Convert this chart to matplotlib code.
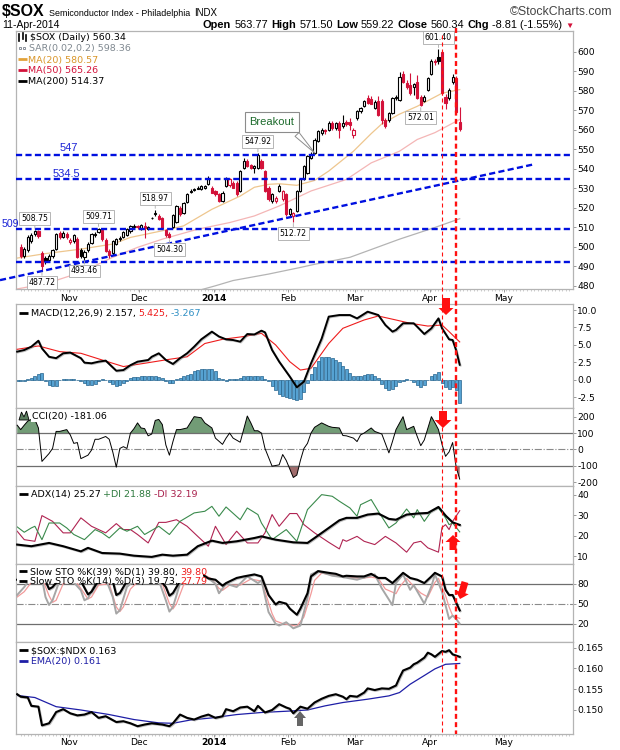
import matplotlib
matplotlib.use("Agg")
import matplotlib.pyplot as plt
import matplotlib.patheffects as pe
from matplotlib import font_manager
from matplotlib.patches import Polygon, Rectangle
from matplotlib.lines import Line2D
from matplotlib.transforms import blended_transform_factory
import numpy as np
import pandas as pd

# ---------------- data ----------------
holidays = ["2013-11-28", "2013-12-25", "2014-01-01", "2014-01-20",
            "2014-02-17", "2014-04-18", "2014-05-26"]
sessions = pd.bdate_range("2013-10-14", "2014-05-30")
sessions = sessions[~sessions.isin(pd.to_datetime(holidays))]

# daily candles, 14-Oct-2013 .. 11-Apr-2014
opens = [500.0, 495.5, 498.5, 503.0, 506.5, 508.0, 497.0, 494.5, 493.0, 495.5,
         499.0, 507.0, 505.0, 506.5, 502.5, 503.0, 504.0, 498.5, 495.0, 498.5,
         502.0, 506.0, 507.5, 508.5, 503.5, 498.0, 497.0, 501.5, 504.0, 505.0,
         506.0, 508.0, 510.3, 510.5, 509.0, 510.5, 509.0, 514.5, 516.8, 516.0,
         515.0, 508.5, 506.5, 510.0, 512.5, 520.0, 517.5, 523.0, 528.0, 529.0,
         529.8, 529.5, 530.0, 532.0, 530.3, 528.6, 526.9, 523.5, 531.1, 531.5,
         532.8, 532.8, 528.6, 540.5, 543.9, 541.8, 540.3, 540.5, 543.9, 538.8,
         530.3, 523.5, 523.5, 528.6, 524.3, 526.9, 516.7, 515.8, 518.4, 528.6,
         534.5, 537.9, 545.6, 548.1, 554.1, 558.3, 559.8, 560.0, 563.4, 560.9,
         563.4, 561.8, 564.0, 563.8, 557.5, 566.0, 569.4, 572.0, 576.5, 576.0,
         571.1, 574.5, 574.5, 565.1, 565.1, 568.5, 576.2, 575.3, 588.4, 583.8,
         583.0, 582.1, 584.7, 577.0, 574.5, 580.4, 588.4, 595.2, 597.4, 599.7,
         577.0, 576.2, 584.7, 586.4, 563.77]
highs = [501.5, 500.0, 506.0, 507.0, 508.75, 508.5, 498.0, 495.5, 496.5, 499.0,
         507.0, 508.0, 508.0, 507.5, 504.5, 506.5, 505.0, 499.5, 498.5, 502.5,
         507.0, 507.5, 509.71, 509.0, 504.5, 499.0, 503.5, 504.5, 505.5, 508.0,
         509.5, 511.0, 511.5, 511.0, 511.5, 512.5, 510.5, 515.5, 518.97, 517.0,
         515.5, 509.0, 507.5, 517.0, 521.5, 521.0, 523.0, 527.5, 529.5, 530.0,
         531.0, 531.5, 531.5, 536.5, 531.0, 529.0, 527.5, 528.5, 536.0, 535.5,
         533.5, 533.5, 539.5, 545.5, 545.0, 542.5, 541.8, 547.92, 545.0, 539.5,
         531.0, 527.5, 526.0, 532.0, 529.0, 527.5, 519.8, 518.0, 529.0, 535.0,
         542.0, 547.0, 548.5, 555.5, 559.8, 561.0, 560.5, 564.5, 564.5, 564.0,
         564.5, 567.7, 565.0, 566.0, 561.0, 570.0, 571.8, 575.0, 578.0, 577.5,
         575.0, 577.5, 576.0, 566.0, 569.0, 577.0, 577.8, 589.5, 590.0, 585.5,
         589.0, 584.0, 588.0, 578.0, 578.0, 587.0, 596.5, 596.0, 601.40, 600.5,
         578.5, 581.5, 588.5, 587.5, 571.50]
lows = [494.5, 494.5, 497.5, 502.0, 505.5, 504.5, 487.72, 491.0, 492.0, 494.5,
        498.5, 504.0, 504.5, 504.0, 501.5, 502.0, 494.0, 494.5, 493.46, 497.5,
        501.5, 505.0, 507.0, 503.0, 497.5, 494.5, 496.0, 501.0, 503.0, 504.5,
        505.5, 507.0, 509.5, 509.0, 508.5, 504.5, 508.5, 514.0, 516.0, 513.5,
        509.0, 505.0, 504.30, 509.5, 512.0, 516.0, 517.0, 522.5, 527.5, 528.5,
        529.5, 529.0, 529.5, 531.5, 527.5, 526.0, 523.0, 523.0, 530.5, 530.5,
        530.0, 526.0, 528.0, 540.0, 541.0, 540.0, 538.0, 540.0, 540.0, 528.0,
        523.5, 522.5, 522.5, 528.0, 523.5, 516.0, 515.5, 512.72, 518.0, 528.0,
        534.0, 537.5, 545.0, 547.5, 553.5, 557.5, 558.0, 559.5, 560.0, 560.0,
        556.0, 561.0, 562.0, 560.0, 556.0, 565.0, 568.5, 571.5, 573.0, 573.0,
        570.5, 567.0, 563.0, 561.0, 564.0, 568.0, 575.0, 574.5, 584.0, 581.0,
        578.0, 578.0, 575.5, 572.01, 574.0, 580.0, 588.0, 593.0, 593.5, 578.0,
        570.5, 575.0, 583.5, 568.5, 559.22]
closes = [495.5, 499.0, 505.0, 506.0, 508.0, 505.5, 490.0, 492.5, 495.5, 498.5,
          506.5, 505.0, 507.0, 505.0, 503.5, 506.0, 494.8, 495.5, 497.5, 501.5,
          506.5, 506.8, 509.0, 504.0, 498.0, 496.0, 503.0, 504.0, 504.5, 507.5,
          509.0, 510.5, 510.8, 510.0, 511.0, 509.5, 510.0, 515.0, 517.5, 514.0,
          509.5, 505.8, 504.8, 516.5, 521.0, 516.8, 522.5, 527.0, 528.8, 529.5,
          530.3, 531.0, 531.2, 534.5, 527.8, 527.0, 523.5, 527.8, 535.4, 534.5,
          530.3, 527.0, 538.8, 543.9, 541.3, 540.6, 541.3, 547.0, 540.5, 528.8,
          524.3, 526.9, 525.2, 531.1, 528.6, 516.7, 519.2, 517.5, 528.6, 534.5,
          541.3, 546.4, 547.6, 554.9, 559.2, 560.0, 559.2, 563.4, 560.9, 563.4,
          560.0, 563.4, 562.8, 562.5, 560.0, 569.4, 571.0, 574.5, 573.6, 573.2,
          574.1, 567.7, 565.1, 561.7, 568.5, 576.2, 577.0, 587.2, 584.7, 582.1,
          578.7, 583.3, 576.2, 572.8, 577.0, 586.4, 595.2, 594.5, 595.2, 578.7,
          573.6, 580.4, 587.2, 569.15, 560.34]

ma20_days = [-1, 7, 17, 26, 31, 40, 46, 54, 62, 66, 70, 73, 78, 83, 87, 94, 99, 102, 107, 112, 119, 124]
ma20_vals = [494.2, 496.5, 498.8, 501.4, 504.8, 508.2, 510.7, 519.2, 526.0, 530.5, 532.0,
             532.3, 531.5, 534.0, 538.8, 549.0, 558.0, 563.0, 568.0, 572.0, 578.7, 580.57]
ma50_days = [-1, 7, 17, 26, 33, 40, 50, 59, 66, 73, 82, 92, 99, 107, 112, 117, 124]
ma50_vals = [478.4, 481.0, 486.9, 494.6, 499.7, 503.9, 509.0, 512.4, 515.8, 520.9, 528.6,
             534.5, 543.0, 549.0, 555.0, 558.5, 565.26]
ma200_days = [50, 55, 60, 70, 79, 83, 93, 107, 117, 124]
ma200_vals = [477.5, 480.0, 482.7, 486.0, 489.4, 491.0, 494.6, 503.9, 509.9, 514.37]

levels = [547, 534.5, 509, 492]
trend_days = [-5.85, 145.3]
trend_vals = [482.9, 542.4]

# labelled highs and lows
label_highs = [4, 22, 38, 67, 118]
label_lows = [6, 18, 42, 77, 113]

macd_days = [-1, 1, 3, 5, 6, 8, 10, 12, 14, 17, 18, 20, 22, 24, 27, 29, 31, 33, 36, 37,
             39, 41, 43, 45, 47, 49, 51, 54, 56, 58, 60, 62, 64, 66, 68, 69, 71, 73, 76, 78,
             80, 82, 85, 87, 90, 93, 95, 98, 101, 103, 105, 106, 108, 111, 112, 114, 116, 118, 119, 121,
             122, 123, 124]
macd_vals = [4.04, 4.27, 4.75, 5.6, 4.5, 3.3, 3.1, 3.8, 3.9, 3.1, 2.46, 2.37, 2.6, 2.75, 1.3, 1.4, 2.1, 2.6, 2.84, 3.3,
             3.8, 2.84, 2.27, 3.1, 3.8, 4.75, 5.8, 6.9, 6.2, 5.8, 5.7, 5.47, 6.56, 6.5, 7.04, 6.8, 4.27, 2.6, 0.46, -1.07,
             -0.26, 2.37, 5.9, 9.05, 9.28, 9.28, 8.8, 9.76, 9.28, 7.85, 6.9, 7.14, 8.1, 8.1, 7.6, 6.56, 7.38, 8.8, 7.38, 5.8,
             5.7, 4.2, 2.157]
signal_days = [-1, 5, 11, 17, 23, 29, 35, 42, 47, 52, 57, 63, 68, 72, 76, 79, 82, 87, 91, 97, 101, 106, 110, 115, 119, 121, 124]
signal_vals = [4.37, 4.85, 4.04, 3.8, 2.84, 1.9, 2.37, 2.94, 3.3, 5.2, 5.8, 6.2, 6.66, 5.0, 2.6, 1.4, 1.65, 5.2, 7.38,
               8.57, 9.14, 8.57, 8.1, 7.7, 7.85, 6.9, 5.425]
hist_vals = [-0.2,
             -0.2, -0.15, 0.1, 0.3, 0.6, 0.85, 0.95, -0.2, -0.7, -0.95,
             -0.9, 0.0, 0.1, 0.15, 0.1, 0.05, 0.0, -0.1, -0.5, -0.8,
             -0.8, -0.6, -0.1, 0.1, 0.0, -0.3, -0.6, -0.9, -0.8, -0.5,
             -0.2, 0.2, 0.35, 0.45, 0.5, 0.55, 0.6, 0.5, 0.55, 0.45,
             0.3, -0.2, -0.45, -0.5, 0.1, 0.3, 0.5, 0.7, 0.9, 1.2,
             1.45, 1.55, 1.6, 1.6, 1.55, 1.2, 0.2, 0.05, -0.1, 0.1,
             0.15, 0.05, 0.3, 0.55, 0.6, 0.6, 0.5, 0.5, 0.55, 0.1,
             -0.1, -0.9, -1.5, -2.0, -2.3, -2.4, -2.6, -2.8, -2.9, -2.7,
             -1.7, -0.5, 0.8, 1.8, 2.7, 3.2, 3.3, 3.3, 3.1, 2.8,
             2.5, 2.0, 1.6, 1.0, 0.6, 0.5, 0.6, 0.7, 0.9, 0.8,
             0.6, 0.3, -0.6, -1.2, -1.4, -1.3, -0.9, -0.3, -0.1, 0.05,
             0.0, -0.3, -0.7, -1.0, -0.8, 0.0, 0.5, 0.9, 1.1, -0.5,
             -1.1, -1.3, -1.1, -1.5, -3.267]
hist_days = list(range(-1, 125))

cci_days = [-1, 0, 1, 2, 3, 4, 5, 6, 8, 9, 10, 11, 13, 14, 15, 16, 17, 19, 20, 21,
            22, 24, 25, 26, 27, 28, 29, 30, 31, 32, 33, 34, 35, 36, 37, 38, 39, 40, 41, 42,
            43, 44, 45, 47, 49, 51, 52, 54, 55, 57, 58, 59, 60, 62, 64, 65, 66, 67, 68, 69,
            71, 72, 73, 74, 75, 77, 78, 79, 80, 81, 82, 83, 85, 87, 88, 90, 91, 92, 94, 95,
            96, 97, 99, 100, 102, 103, 104, 105, 106, 108, 109, 111, 112, 113, 114, 116, 117, 118, 119, 120,
            121, 122, 123, 124]
cci_vals = [148, 121, 148, 173, 183, 183, 131, -73, -25, 6, 110, 110, 121, 89, 37, 42, -56, -35, -4, 62,
            62, 79, 62, -15, -108, 6, 17, 6, 100, 127, 162, 131, 127, 83, 94, 177, 183, 152, 27, -35,
            48, 121, 121, 131, 200, 193, 162, 131, 69, 31, 69, 100, 69, 44, 204, 162, 114, 114, 100, 6,
            -102, -98, -94, -31, -67, -171, -156, -67, 6, 37, 100, 135, 162, 141, 135, 131, 85, 83, 69, 48,
            89, 100, 131, 110, 94, 37, -21, 48, 121, 200, 121, 141, 79, 23, 58, 200, 162, 121, 31, -42,
            -15, 42, -108, -181.06]

adx_days = [-1, 3, 8, 12, 17, 19, 23, 28, 32, 37, 40, 43, 47, 50, 54, 57, 61, 66, 68, 72,
            77, 81, 83, 87, 90, 92, 95, 98, 101, 104, 106, 109, 112, 115, 118, 120, 122, 124]
adx_vals = [15.7, 14.9, 16.5, 14.9, 12.4, 14.1, 11.6, 11.3, 10.3, 9.7, 10.8, 10.3, 10.8, 14.9, 17.6, 16.5,
            17.3, 18.9, 19.7, 18.1, 16.8, 16.5, 18.9, 23.8, 27.5, 28.7, 28.7, 30.3, 30.8, 28.2, 27.8, 30.3,
            30.8, 31.1, 34.0, 29.8, 26.5, 25.27]
pdi_days = [-1, 1, 3, 4, 6, 8, 11, 13, 15, 18, 21, 23, 25, 28, 30, 33, 35, 39, 42, 45,
            49, 52, 54, 56, 58, 62, 64, 67, 68, 71, 75, 78, 81, 85, 88, 90, 93, 95, 96, 99,
            101, 104, 106, 109, 111, 112, 114, 116, 118, 120, 121, 122, 124]
pdi_vals = [24.3, 21.7, 23.8, 24.6, 18.1, 26.2, 26.2, 23.8, 20.6, 18.1, 23.0, 21.4, 18.9, 23.8, 22.2, 24.6,
            20.6, 24.6, 20.6, 27.0, 31.1, 31.9, 34.3, 29.5, 34.0, 27.8, 33.5, 30.3, 26.2, 18.1, 23.0, 17.3,
            32.7, 40.0, 39.2, 36.8, 33.5, 29.5, 35.1, 37.6, 31.9, 23.8, 26.2, 33.0, 28.7, 32.7, 27.0, 31.9,
            33.5, 28.7, 25.4, 26.2, 21.88]
mdi_days = [-1, 1, 4, 6, 9, 12, 14, 17, 20, 24, 27, 29, 31, 33, 36, 39, 41, 44, 47, 50,
            53, 55, 58, 61, 64, 67, 69, 71, 73, 76, 78, 80, 83, 87, 90, 91, 92, 95, 97, 100,
            103, 106, 109, 111, 113, 115, 118, 119, 120, 121, 122, 124]
mdi_vals = [22.2, 18.1, 17.3, 29.8, 27.0, 21.4, 21.4, 28.7, 24.6, 21.4, 25.9, 23.0, 23.0, 20.6, 16.5, 26.5,
            26.5, 27.8, 24.6, 19.7, 14.9, 24.6, 15.7, 22.2, 16.5, 16.5, 21.4, 30.3, 24.6, 30.8, 30.8, 25.4,
            21.4, 16.8, 13.6, 18.1, 17.3, 19.7, 17.3, 15.7, 19.7, 16.5, 12.0, 16.5, 17.3, 14.1, 12.0, 24.0,
            25.4, 23.0, 27.0, 32.19]

k39_days = [-1, 2, 5, 7, 8, 9, 11, 14, 17, 19, 20, 22, 24, 26, 27, 28, 30, 33, 36, 39,
            41, 42, 43, 45, 48, 51, 53, 55, 57, 58, 61, 63, 66, 68, 70, 72, 73, 75, 76, 78,
            79, 81, 82, 84, 87, 89, 91, 92, 95, 97, 99, 101, 103, 105, 106, 108, 110, 112, 114, 116,
            117, 119, 120, 121, 122, 124]
k39_vals = [86, 88, 90, 84, 72, 75, 88, 90, 84, 64, 68, 85, 88, 84, 63, 66, 84, 90, 92, 88,
            75, 62, 66, 84, 92, 95, 88, 86, 77, 81, 88.7, 91, 94, 91, 63, 48.7, 52.8, 50, 42.6, 33.3,
            42.6, 65.6, 91, 99, 96.4, 94.9, 91, 92, 91, 91, 94.9, 88.7, 88.7, 81, 86, 96.4, 88.7, 86, 81, 91,
            96.4, 91, 70.8, 63, 63, 39.80]
k14_days = [-1, 1, 3, 6, 7, 8, 9, 11, 14, 17, 18, 19, 21, 24, 26, 27, 28, 30, 33, 36,
            39, 41, 42, 43, 45, 48, 51, 53, 55, 56, 58, 61, 64, 67, 68, 70, 72, 73, 75, 77,
            79, 81, 82, 84, 88, 91, 95, 98, 100, 102, 105, 106, 108, 110, 111, 114, 116, 117, 119, 121,
            122, 123, 124]
k14_vals = [63, 75, 90, 88, 60, 48, 55, 85, 88, 70, 55, 58, 80, 88, 60, 35, 40, 75, 90, 92,
            85, 55, 38, 45, 80, 92, 95, 88, 80, 65.6, 80, 75, 91, 81, 85, 37.4, 19.5, 17, 22, 12.8,
            17, 58, 94, 99, 92, 90, 86, 91, 94, 73, 47.7, 81, 94, 70.8, 78, 50, 76, 94, 68, 27,
            32, 27, 19.73]
d3_days = [-1, 1, 3, 6, 8, 9, 10, 12, 15, 18, 19, 20, 22, 25, 27, 28, 29, 31, 34, 37,
           40, 42, 43, 44, 46, 49, 52, 54, 56, 57, 59, 62, 65, 68, 69, 71, 72, 74, 76, 78,
           80, 82, 83, 85, 89, 92, 96, 99, 101, 103, 106, 107, 109, 111, 113, 115, 117, 118, 120, 121,
           122, 124]
d3_vals = [60, 68, 82, 89, 62, 52, 55, 80, 88, 65, 57, 60, 78, 80, 45, 38, 45, 72, 88, 90,
           80, 50, 42, 50, 78, 90, 93, 87, 73, 70, 78, 78, 87, 84, 68, 35, 24, 20, 18, 16,
           30, 65, 85, 96, 92, 90, 88, 90, 88, 72, 65, 75, 88, 76, 66, 60, 82, 88, 62, 45,
           32, 27.79]

ratio_days = [-1, 0, 2, 3, 5, 6, 8, 9, 10, 12, 14, 16, 18, 20, 22, 24, 27, 29, 31, 33,
              35, 37, 40, 42, 43, 45, 47, 49, 51, 53, 55, 57, 58, 60, 62, 64, 66, 67, 69, 71,
              73, 75, 76, 77, 79, 81, 83, 85, 87, 89, 91, 92, 93, 95, 97, 98, 100, 102, 104, 106,
              107, 108, 110, 111, 112, 114, 115, 116, 117, 119, 120, 121, 122, 124]
ratio_vals = [0.1538, 0.1532, 0.1530, 0.1510, 0.1508, 0.1463, 0.1468, 0.1481, 0.1495, 0.1502,
              0.1492, 0.1487, 0.1489, 0.1495, 0.1481, 0.1485, 0.1471, 0.1473, 0.1468, 0.1461,
              0.1465, 0.1468, 0.1465, 0.1461, 0.1468, 0.1489, 0.1481, 0.1477, 0.1484, 0.1489,
              0.1481, 0.1485, 0.1502, 0.1497, 0.1506, 0.1508, 0.1497, 0.1510, 0.1494, 0.1500,
              0.1514, 0.1506, 0.1503, 0.1492, 0.1508, 0.1503, 0.1518, 0.1527, 0.1534, 0.1538,
              0.1532, 0.1526, 0.1534, 0.1532, 0.1542, 0.1552, 0.1548, 0.1552, 0.1551, 0.1559,
              0.1578, 0.1595, 0.1602, 0.1610, 0.1614, 0.1626, 0.1638, 0.1634, 0.1628, 0.1642,
              0.1640, 0.1644, 0.1634, 0.1628]
ema_days = [-1, 4, 10, 17, 25, 32, 39, 43, 48, 54, 61, 68, 75, 81, 86, 91, 98, 104, 107, 110, 114, 117, 120, 124]
ema_vals = [0.1535, 0.1530, 0.1508, 0.1500, 0.1489, 0.1477, 0.1469, 0.1468, 0.1476, 0.1481, 0.1489, 0.1494,
            0.1497, 0.1500, 0.1510, 0.1518, 0.1526, 0.1534, 0.1542, 0.1562, 0.1583, 0.1599, 0.1610, 0.1612]

signal_day_a, signal_day_b = 119, 123   # 4-Apr and 10-Apr markers

# ---------------- figure ----------------
RED = "#d3123a"
W, H = 620, 750
XL, XR = 16, 573
XLIM = (-1.33, 156.0)
plt.rcParams["font.family"] = "DejaVu Sans"
fig = plt.figure(figsize=(6.2, 7.5), dpi=100)
renderer = fig.canvas.get_renderer()


def has_font(name):
    try:
        font_manager.findfont(name, fallback_to_default=False)
        return True
    except ValueError:
        return False


NARROW = has_font("Liberation Sans Narrow")


def panel(top, bottom):
    return fig.add_axes([XL / W, 1 - bottom / H, (XR - XL) / W, (bottom - top) / H])


def frame(ax, ylim, ticks, labels):
    ax.set_xlim(*XLIM)
    ax.set_ylim(*ylim)
    ax.yaxis.tick_right()
    ax.set_yticks(ticks)
    ax.set_yticklabels(labels)
    ax.tick_params(axis="y", direction="out", length=2.2, width=0.7, color="#9a9a9a",
                   labelsize=6.6, pad=1)
    ax.set_xticks([])
    for sp in ax.spines.values():
        sp.set_color("#b4b4b4")
        sp.set_linewidth(0.9)


month_pos = [i for i in range(1, len(sessions)) if sessions[i].month != sessions[i - 1].month]
month_lbl = ["2014" if sessions[i].month == 1 else sessions[i].strftime("%b") for i in month_pos]


def date_axis(ax):
    ax.set_xticks([p - 0.5 for p in month_pos])
    ax.set_xticklabels(month_lbl)
    ax.set_xticks(np.arange(0, 156), minor=True)
    ax.tick_params(axis="x", which="major", direction="out", length=2.2, width=0.7,
                   color="#9a9a9a", labelsize=6.6, pad=1)
    ax.tick_params(axis="x", which="minor", direction="out", length=1.2, width=0.5, color="#b8b8b8")
    for t in ax.get_xticklabels():
        if t.get_text() == "2014":
            t.set_fontweight("bold")


def rich(x, base, parts, family="DejaVu Sans", align="left", gap=2.5, bg=False):
    made = []
    for part in parts:
        s, col, wt, size = part[:4]
        fam = part[4] if len(part) > 4 else family
        t = fig.text(0, 0, s, fontsize=size, color=col, fontweight=wt, family=fam,
                     va="baseline", ha="left", zorder=6)
        made.append((t, t.get_window_extent(renderer).width))
    total = sum(w for _, w in made) + gap * (len(made) - 1)
    cx = x - total if align == "right" else x
    if bg:
        hgt = parts[0][3] * 1.39 + 1
        fig.add_artist(Rectangle(((cx - 1) / W, 1 - (base + 2.5) / H), (total + 2) / W, hgt / H,
                                 transform=fig.transFigure, fc="white", ec="none", zorder=5.5))
    for t, w in made:
        t.set_position((cx / W, 1 - base / H))
        cx += w + gap


def mark(x0, x1, y, color, lw=2.0):
    fig.add_artist(Line2D([x0 / W, x1 / W], [1 - y / H, 1 - y / H], color=color, lw=lw,
                          transform=fig.transFigure, zorder=6, solid_capstyle="butt"))


def block_arrow(x0, y0, x1, y1, shaft, head, head_len, color):
    dx, dy = x1 - x0, y1 - y0
    ln = np.hypot(dx, dy)
    ux, uy = dx / ln, dy / ln
    px, py = -uy, ux
    bx, by = x1 - ux * head_len, y1 - uy * head_len
    pts = [(x0 + px * shaft / 2, y0 + py * shaft / 2), (bx + px * shaft / 2, by + py * shaft / 2),
           (bx + px * head / 2, by + py * head / 2), (x1, y1),
           (bx - px * head / 2, by - py * head / 2), (bx - px * shaft / 2, by - py * shaft / 2),
           (x0 - px * shaft / 2, y0 - py * shaft / 2)]
    pts = [(a / W, 1 - b / H) for a, b in pts]
    fig.add_artist(Polygon(pts, closed=True, transform=fig.transFigure, fc=color, ec="none", zorder=8))


shadow = [pe.SimpleLineShadow(offset=(0.6, -0.6), shadow_color="#808080", alpha=0.5), pe.Normal()]

# ---------------- price panel ----------------
ax = panel(31, 289.3)
frame(ax, (478.2, 610.6), list(range(480, 601, 10)), [str(v) for v in range(480, 601, 10)])
date_axis(ax)

ax.plot(ma200_days, ma200_vals, color="#b4b4b4", lw=0.9, zorder=1)
ax.plot(ma50_days, ma50_vals, color="#f4b6b6", lw=0.9, zorder=1)
ax.plot(ma20_days, ma20_vals, color="#eec68e", lw=0.9, zorder=1)

idx = np.arange(len(closes))
o, h, l, c = map(np.array, (opens, highs, lows, closes))
prev = np.concatenate([[o[0]], c[:-1]])
edge = [RED if c[i] < prev[i] else "black" for i in idx]
face = ["white" if c[i] >= o[i] else edge[i] for i in idx]
ax.vlines(idx, l, h, colors=edge, lw=0.8, zorder=2)
ax.bar(idx, np.maximum(np.abs(c - o), 0.3), bottom=np.minimum(o, c), width=0.62,
       color=face, edgecolor=edge, linewidth=0.8, zorder=3)

for lv in levels:
    ax.axhline(lv, color="#0010e0", lw=1.7, ls=(0, (2.6, 1.4)), zorder=4)
ax.plot(trend_days, trend_vals, color="#0010e0", lw=1.7, ls=(0, (2.6, 1.4)), zorder=4, clip_on=False)
blue_kw = dict(color="#1a22d6", family="Liberation Sans", va="center", zorder=5)
ax.text(13.6, 550.5, "547", ha="center", fontsize=8, **blue_kw)
ax.text(12.9, 537.3, "534.5", ha="center", fontsize=8, **blue_kw)
ax.text(-5.45, 511.6, "509", ha="left", fontsize=7.6, clip_on=False, **blue_kw)

box_kw = dict(textcoords="offset points", ha="center", fontsize=5.6, zorder=6,
              bbox=dict(boxstyle="square,pad=0.25", fc="white", ec="#a9a9a9", lw=0.6),
              arrowprops=dict(arrowstyle="-", color="#a9a9a9", lw=0.6, shrinkA=0, shrinkB=1))
for i in label_highs:
    ax.annotate(f"{highs[i]:.2f}", xy=(i, highs[i]), xytext=(0, 5), va="bottom", **box_kw)
for i in label_lows:
    ax.annotate(f"{lows[i]:.2f}", xy=(i, lows[i]), xytext=(0, -5), va="top", **box_kw)

ax.annotate("Breakout", xy=(83.6, 547.0), xytext=(272, H - 122), textcoords="figure pixels",
            ha="center", va="center", fontsize=8, color="#1d6b2c", family="Liberation Sans",
            bbox=dict(boxstyle="square,pad=0.45", fc="white", ec="#8c8c8c", lw=0.8),
            arrowprops=dict(arrowstyle="wedge,tail_width=0.5", fc="white", ec="#8c8c8c", lw=0.7,
                            relpos=(0.88, 0.1)), zorder=6)
ax_main = ax

# ---------------- MACD ----------------
ax = panel(304, 408.3)
frame(ax, (-4.08, 10.86), [-2.5, 0, 2.5, 5, 7.5, 10], ["-2.5", "0.0", "2.5", "5.0", "7.5", "10.0"])
ax.bar(hist_days, hist_vals, width=0.85, color="#56a2d2", edgecolor="#25648e", linewidth=0.5, zorder=2)
ax.plot(signal_days, signal_vals, color="#ee1c1c", lw=0.8, zorder=3)
ax.plot(macd_days, macd_vals, color="black", lw=1.4, zorder=4, path_effects=shadow)

# ---------------- CCI ----------------
ax = panel(408.3, 486)
frame(ax, (-223, 251), [-200, -100, 0, 100, 200], ["-200", "-100", "0", "100", "200"])
cd, cv = np.array(cci_days), np.array(cci_vals, dtype=float)
ax.fill_between(cd, cv, 100, where=cv >= 100, interpolate=True, color="#729c76", lw=0, zorder=1)
ax.fill_between(cd, cv, -100, where=cv <= -100, interpolate=True, color="#a06c6c", lw=0, zorder=1)
ax.axhline(100, color="#6e6e6e", lw=0.9, zorder=2)
ax.axhline(-100, color="#6e6e6e", lw=0.9, zorder=2)
ax.axhline(0, color="#8a8a8a", lw=0.8, ls="-.", zorder=2)
ax.plot(cd, cv, color="black", lw=0.7, zorder=3)

# ---------------- ADX ----------------
ax = panel(486, 564)
frame(ax, (6.25, 44.2), [10, 20, 30, 40], ["10", "20", "30", "40"])
ax.plot(mdi_days, mdi_vals, color="#b02452", lw=0.8, zorder=2)
ax.plot(pdi_days, pdi_vals, color="#3a8a4c", lw=0.8, zorder=2)
ax.plot(adx_days, adx_vals, color="black", lw=1.5, zorder=3, path_effects=shadow)

# ---------------- Slow STO ----------------
ax = panel(564, 641.5)
frame(ax, (-7.0, 109.7), [20, 50, 80], ["20", "50", "80"])
ax.axhline(80, color="#6e6e6e", lw=0.9, zorder=1)
ax.axhline(20, color="#6e6e6e", lw=0.9, zorder=1)
ax.axhline(50, color="#8a8a8a", lw=0.8, ls="-.", zorder=1)
ax.plot(d3_days, d3_vals, color="#f29a9a", lw=0.9, zorder=2)
ax.plot(k14_days, k14_vals, color="#a6a6a6", lw=1.4, zorder=3)
ax.plot(k39_days, k39_vals, color="black", lw=1.5, zorder=4, path_effects=shadow)

# ---------------- ratio ----------------
ax = panel(641.5, 734)
frame(ax, (0.14422, 0.16649), [0.150, 0.155, 0.160, 0.165], ["0.150", "0.155", "0.160", "0.165"])
date_axis(ax)
ax.plot(ema_days, ema_vals, color="#1e1ea6", lw=0.9, zorder=2)
ax.plot(ratio_days, ratio_vals, color="black", lw=1.5, zorder=3, path_effects=shadow)

# ---------------- header and legends ----------------
hdr = ["Liberation Sans", "DejaVu Sans"]
if NARROW:
    title_part = ("Semiconductor Index - Philadelphia", "black", "normal", 7.7,
                  ["Liberation Sans Narrow", "DejaVu Sans"])
else:
    title_part = ("Semiconductor Index - Philadelphia", "black", "normal", 6.4, hdr)
rich(2, 16, [("\\$SOX", "black", "bold", 11.5), title_part, ("INDX", "black", "normal", 7.0)],
     family=hdr, gap=4)
rich(612, 15, [("©StockCharts.com", "#444444", "normal", 8.8)], family=hdr, align="right")
rich(2, 27.5, [("11-Apr-2014", "black", "normal", 7.5)], family=hdr)
rich(574, 27.5, [("Open", "black", "bold", 7.9), ("563.77", "black", "normal", 7.9),
                 ("High", "black", "bold", 7.9), ("571.50", "black", "normal", 7.9),
                 ("Low", "black", "bold", 7.9), ("559.22", "black", "normal", 7.9),
                 ("Close", "black", "bold", 7.9), ("560.34", "black", "normal", 7.9),
                 ("Chg", "black", "bold", 7.9), ("-8.81 (-1.55%)", "black", "normal", 7.9),
                 ("▼", RED, "normal", 6)], family=hdr, align="right", gap=3.2)

LS = 6.8
# price legend
for xx, y0, y1 in [(19.5, 33.5, 40.5), (22.5, 32.5, 39.0), (25.5, 34.5, 40.5)]:
    fig.add_artist(Line2D([xx / W, xx / W], [1 - y0 / H, 1 - y1 / H], color="black", lw=1.2,
                          transform=fig.transFigure, zorder=6))
rich(30, 40, [("\\$SOX (Daily) 560.34", "black", "normal", LS)])
for xx in (20, 24):
    fig.add_artist(Rectangle(((xx - 1.3) / W, 1 - 49.4 / H), 2.6 / W, 2.6 / H, transform=fig.transFigure,
                             fc="white", ec="#8a9099", lw=0.7, zorder=6))
rich(29, 51.5, [("SAR(0.02,0.2) 598.36", "#7f8890", "normal", LS)])
mark(18, 27, 59.1, "#e2a23a")
rich(28.5, 62.5, [("MA(20) 580.57", "#d9962a", "normal", LS)])
mark(18, 27, 70.1, RED)
rich(28.5, 73.5, [("MA(50) 565.26", RED, "normal", LS)])
mark(18, 27, 80.6, "black")
rich(28.5, 84, [("MA(200) 514.37", "black", "normal", LS)])

# indicator legends
mark(19, 28, 312.6, "black")
rich(31, 316, [("MACD(12,26,9) 2.157,", "black", "normal", LS), ("5.425,", "#ee1c1c", "normal", LS),
               ("-3.267", "#2f8fc4", "normal", LS)], bg=True)
fig.add_artist(Polygon([(19 / W, 1 - 420 / H), (21.5 / W, 1 - 412 / H), (24 / W, 1 - 417 / H),
                        (26.5 / W, 1 - 411 / H), (29 / W, 1 - 420 / H)], closed=True,
                       transform=fig.transFigure, fc="#5c7f60", ec="black", lw=0.6, zorder=6))
rich(31.5, 419, [("CCI(20) -181.06", "black", "normal", LS)], bg=True)
mark(19, 28, 493.6, "black")
rich(31, 497, [("ADX(14) 25.27", "black", "normal", LS), ("+DI 21.88", "#2e7a3e", "normal", LS),
               ("-DI 32.19", "#a8204c", "normal", LS)], bg=True)
# the stochastic legend block hides the lines running behind it
fig.add_artist(Rectangle((17 / W, 1 - 583.3 / H), 186 / W, 17.5 / H, transform=fig.transFigure,
                         fc="white", ec="none", zorder=5.4))
rich(30, 574.7, [("Slow STO %K(39) %D(1) 39.80,", "black", "normal", LS), ("39.80", "#ee1c1c", "normal", LS)],
     gap=2.2)
rich(30, 584.2, [("Slow STO %K(14) %D(3) 19.73,", "black", "normal", LS), ("27.79", "#ee1c1c", "normal", LS)],
     gap=2.2)
mark(19, 27, 571.3, "black")
mark(19, 27, 580.8, "black")
mark(19, 28, 649.8, "black")
rich(31, 653.4, [("\\$SOX:\\$NDX 0.163", "black", "normal", LS)], bg=True)
mark(19, 28, 660.8, "#1e1ea6")
rich(31, 664.4, [("EMA(20) 0.161", "#1e1ea6", "normal", LS)], bg=True)

# ---------------- signal markers ----------------
trans = blended_transform_factory(ax_main.transData, fig.transFigure)
fig.add_artist(Line2D([signal_day_a, signal_day_a], [1 - 35 / H, 1 - 734 / H], transform=trans,
                      color="#ff1010", lw=0.8, ls=(0, (3.6, 2.7)), zorder=7))
fig.add_artist(Line2D([signal_day_b, signal_day_b], [1 - 28 / H, 1 - 734 / H], transform=trans,
                      color="#ff1010", lw=1.7, ls=(0, (2.1, 1.4)), zorder=7))

block_arrow(446, 298, 446, 315, 8, 15, 7, "#ff1010")
block_arrow(443, 411, 443, 428, 8, 17, 8, "#ff1010")
block_arrow(453, 550, 453, 535, 7, 15, 7, "#ff1010")
block_arrow(465, 582, 460, 599, 7, 14, 7, "#ff1010")
block_arrow(300, 726, 300, 711, 6, 12, 7, "#666666")

fig.savefig("out.png", dpi=100)
